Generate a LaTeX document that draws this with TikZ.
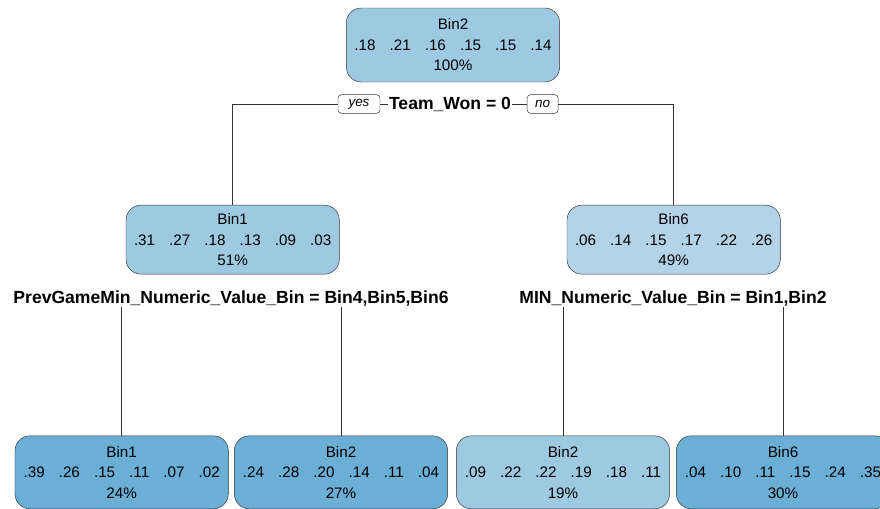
\documentclass[tikz,border=0pt]{standalone}
\usepackage{fontspec}
\setmainfont{Liberation Sans}
\usepackage{tikz}
\definecolor{rootblue}{HTML}{9DCAE2}
\definecolor{midblue}{HTML}{9ECAE1}
\definecolor{paleblue}{HTML}{B2D3E8}
\definecolor{deepblue}{HTML}{6BAED6}
\definecolor{edgegray}{HTML}{333333}
\newcommand{\probgap}{\hspace{12pt}}
\tikzstyle{binnode} = [rectangle, rounded corners=0.45cm, minimum width=6.4cm, minimum height=2.1cm, text centered, align=center, draw=edgegray, font=\fontsize{13}{17.5}\selectfont, execute at begin node=\rule{0pt}{16pt}]
\tikzstyle{splitlabel} = [fill=white, inner sep=1pt, font=\bfseries\fontsize{15}{18}\selectfont]
\tikzstyle{answer} = [rectangle, rounded corners=3pt, draw=edgegray, fill=white, inner xsep=4pt, inner ysep=2pt, minimum height=0.56cm, font=\itshape\fontsize{11.5}{13}\selectfont]
\tikzstyle{branch} = [draw=edgegray, line width=0.8pt]

\begin{document}
\begin{tikzpicture}
        \useasboundingbox (0,0) rectangle (26.4,-15.27);
        % root and first split
        \node (root) [binnode, fill=rootblue, minimum height=2.22cm] at (13.59,-1.35) {Bin2\\.18\probgap.21\probgap.16\probgap.15\probgap.15\probgap.14\\100\%};
        \node (split1) [splitlabel] at (13.5,-3.12) {Team\_Won = 0};
        \node (yes) [answer, minimum width=1.26cm, left of=split1, node distance=2.73cm] {yes};
        \node (no) [answer, minimum width=0.93cm, right of=split1, node distance=2.78cm] {no};
        % second level
        \node (midL) [binnode, fill=midblue, minimum height=2.07cm] at (6.98,-7.19) {Bin1\\.31\probgap.27\probgap.18\probgap.13\probgap.09\probgap.03\\51\%};
        \node (midR) [binnode, fill=paleblue, minimum height=2.07cm, right of=midL, node distance=13.23cm] {Bin6\\.06\probgap.14\probgap.15\probgap.17\probgap.22\probgap.26\\49\%};
        \node (split2L) [splitlabel] at (6.93,-8.94) {PrevGameMin\_Numeric\_Value\_Bin = Bin4,Bin5,Bin6};
        \node (split2R) [splitlabel] at (20.19,-8.94) {MIN\_Numeric\_Value\_Bin = Bin1,Bin2};
        % leaves
        \node (leaf1) [binnode, fill=deepblue, minimum height=2.19cm] at (3.65,-14.17) {Bin1\\.39\probgap.26\probgap.15\probgap.11\probgap.07\probgap.02\\24\%};
        \node (leaf2) [binnode, fill=deepblue, minimum height=2.19cm, right of=leaf1, node distance=6.58cm] {Bin2\\.24\probgap.28\probgap.20\probgap.14\probgap.11\probgap.04\\27\%};
        \node (leaf3) [binnode, fill=midblue, minimum height=2.19cm, right of=leaf2, node distance=6.66cm] {Bin2\\.09\probgap.22\probgap.22\probgap.19\probgap.18\probgap.11\\19\%};
        \node (leaf4) [binnode, fill=deepblue, minimum height=2.19cm, right of=leaf3, node distance=6.6cm] {Bin6\\.04\probgap.10\probgap.11\probgap.15\probgap.24\probgap.35\\30\%};
        \draw [branch] (yes.west) -| (midL.north);
        \draw [branch] (yes) -- (split1);
        \draw [branch] (split1) -- (no);
        \draw [branch] (no.east) -| (midR.north);
        \draw [branch] (leaf1.north) -- (leaf1.north |- split2L.south);
        \draw [branch] (leaf2.north) -- (leaf2.north |- split2L.south);
        \draw [branch] (leaf3.north) -- (leaf3.north |- split2R.south);
        \draw [branch] (leaf4.north) -- (leaf4.north |- split2R.south);
    \end{tikzpicture}
\end{document}
